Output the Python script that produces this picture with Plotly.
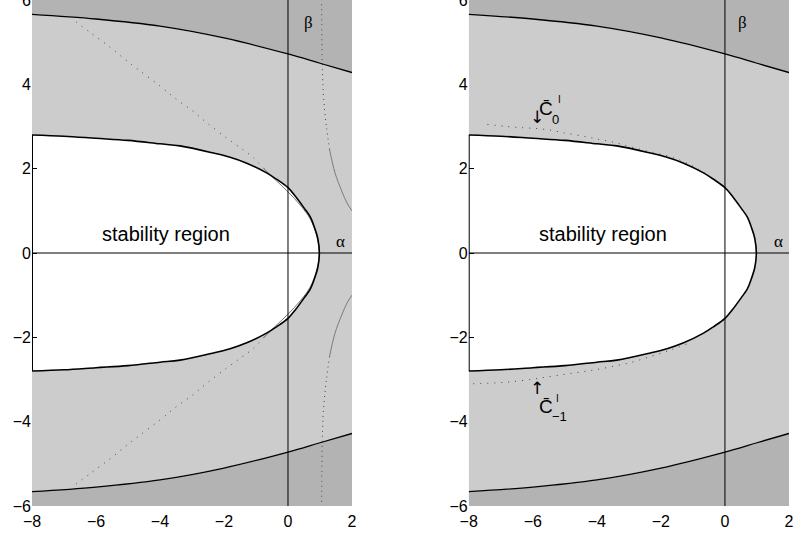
import plotly.graph_objects as go

# ---- data ----
# stability boundary (upper half, from left edge to the nose on the alpha axis)
stab_x = [-8, -7, -6, -5, -4, -3.375, -2.33, -1.81, -1.29, -0.67, -0.36, 0, 0.25, 0.5, 0.7, 0.83, 0.93, 0.98]
stab_y = [2.80, 2.77, 2.72, 2.67, 2.59, 2.54, 2.37, 2.27, 2.13, 1.90, 1.75, 1.55, 1.33, 1.07, 0.85, 0.60, 0.35, 0.0]

# outer (dark) boundary, upper half
outer_x = [-8, -6, -4, -2, 0, 1, 2]
outer_y = [5.66, 5.55, 5.38, 5.10, 4.72, 4.50, 4.28]

# left panel: thin curve near the nose (solid part) and its dotted continuation (upper half)
nose_x = [0.98, 0.9, 0.7, 0.4, 0, -0.4, -0.75]
nose_y = [0.0, 0.40, 0.80, 1.12, 1.45, 1.74, 2.0]
far_x = [-0.75, -1.08, -1.5, -1.92, -2.54, -3.0, -3.48, -4.0, -4.68, -5.09, -5.56, -6.13, -6.75]
far_y = [2.0, 2.26, 2.50, 2.73, 3.09, 3.38, 3.64, 3.96, 4.35, 4.59, 4.88, 5.20, 5.55]

# left panel: right-hand branches (upper half)
rb_near_x = [2.0, 1.85, 1.68, 1.47, 1.3]
rb_near_y = [1.0, 1.18, 1.47, 1.90, 2.45]
rb_far_x = [1.3, 1.2, 1.12, 1.08, 1.06, 1.05]
rb_far_y = [2.45, 3.0, 3.6, 4.2, 5.0, 6.0]

# right panel: dotted curves C0 and C-1
c0_x = [-7.42, -6.81, -6.29, -5.83, -5.41, -5.04, -4.42, -3.9, -3.38, -2.86, -2.23, -1.6, -1.0, -0.6]
c0_y = [3.05, 3.00, 2.97, 2.95, 2.91, 2.85, 2.77, 2.69, 2.61, 2.50, 2.38, 2.26, 2.06, 1.88]
cm1_x = [-7.86, -7.13, -6.61, -5.98, -5.56, -4.94, -4.31, -3.69, -2.96, -2.3, -1.7, -1.2]
cm1_y = [-3.10, -3.08, -3.05, -2.99, -2.94, -2.87, -2.80, -2.72, -2.60, -2.45, -2.30, -2.16]

x_ticks = [-8, -6, -4, -2, 0, 2]
y_ticks = [-6, -4, -2, 0, 2, 4, 6]
x_range = [-8, 2]
y_range = [-6, 6]

DARK = "#b3b3b3"
LIGHT = "#cccccc"
FONT = "Liberation Sans"

def neg(v):
    return [-t for t in v]

fig = go.Figure()

for k, (xa, ya) in enumerate([("x", "y"), ("x2", "y2")]):
    # dark regions
    fig.add_trace(go.Scatter(x=outer_x + [x_range[1], x_range[0]], y=outer_y + [y_range[1], y_range[1]],
                             fill="toself", fillcolor=DARK, mode="none", line_shape="spline",
                             xaxis=xa, yaxis=ya))
    fig.add_trace(go.Scatter(x=outer_x + [x_range[1], x_range[0]], y=neg(outer_y) + [y_range[0], y_range[0]],
                             fill="toself", fillcolor=DARK, mode="none", line_shape="spline",
                             xaxis=xa, yaxis=ya))
    # light regions
    fig.add_trace(go.Scatter(x=stab_x + [x_range[1]] + outer_x[::-1], y=stab_y + [0] + outer_y[::-1],
                             fill="toself", fillcolor=LIGHT, mode="none", xaxis=xa, yaxis=ya))
    fig.add_trace(go.Scatter(x=stab_x + [x_range[1]] + outer_x[::-1], y=neg(stab_y) + [0] + neg(outer_y)[::-1],
                             fill="toself", fillcolor=LIGHT, mode="none", xaxis=xa, yaxis=ya))

    if k == 0:
        # thin curve near the nose
        fig.add_trace(go.Scatter(x=nose_x[::-1] + nose_x[1:], y=nose_y[::-1] + neg(nose_y)[1:], mode="lines",
                                 line=dict(color="#555555", width=0.8, shape="spline"), xaxis=xa, yaxis=ya))
        for sgn in (1, -1):
            fy = far_y if sgn == 1 else neg(far_y)
            fig.add_trace(go.Scatter(x=far_x, y=fy, mode="lines",
                                     line=dict(color="#444444", width=1, dash="1px,6px", shape="spline"),
                                     xaxis=xa, yaxis=ya))
            ny = rb_near_y if sgn == 1 else neg(rb_near_y)
            fy2 = rb_far_y if sgn == 1 else neg(rb_far_y)
            fig.add_trace(go.Scatter(x=rb_near_x, y=ny, mode="lines",
                                     line=dict(color="#666666", width=0.8, shape="spline"), xaxis=xa, yaxis=ya))
            fig.add_trace(go.Scatter(x=rb_far_x, y=fy2, mode="lines",
                                     line=dict(color="#444444", width=1, dash="1px,4px", shape="spline"),
                                     xaxis=xa, yaxis=ya))
    else:
        fig.add_trace(go.Scatter(x=c0_x, y=c0_y, mode="lines",
                                 line=dict(color="#444444", width=1, dash="1px,6px", shape="spline"),
                                 xaxis=xa, yaxis=ya))
        fig.add_trace(go.Scatter(x=cm1_x, y=cm1_y, mode="lines",
                                 line=dict(color="#444444", width=1, dash="1px,6px", shape="spline"),
                                 xaxis=xa, yaxis=ya))

    # outer boundary lines
    fig.add_trace(go.Scatter(x=outer_x, y=outer_y, mode="lines",
                             line=dict(color="black", width=1.3, shape="spline"), xaxis=xa, yaxis=ya))
    fig.add_trace(go.Scatter(x=outer_x, y=neg(outer_y), mode="lines",
                             line=dict(color="black", width=1.3, shape="spline"), xaxis=xa, yaxis=ya))
    # stability boundary (curved part) and left edge
    fig.add_trace(go.Scatter(x=stab_x + stab_x[::-1][1:], y=stab_y + neg(stab_y)[::-1][1:],
                             mode="lines", line=dict(color="black", width=1.6, shape="spline"),
                             xaxis=xa, yaxis=ya))
    fig.add_trace(go.Scatter(x=[stab_x[0], stab_x[0]], y=[stab_y[0], -stab_y[0]],
                             mode="lines", line=dict(color="black", width=2), xaxis=xa, yaxis=ya))

    # coordinate axes through origin
    fig.add_shape(type="line", x0=0, x1=0, y0=y_range[0], y1=y_range[1], xref=xa, yref=ya,
                  line=dict(color="black", width=1))
    fig.add_shape(type="line", x0=x_range[0], x1=x_range[1], y0=0, y1=0, xref=xa, yref=ya,
                  line=dict(color="black", width=1))

ax_common = dict(range=x_range, tickvals=x_ticks, ticks="inside", ticklen=5, tickcolor="black",
                 showgrid=False, zeroline=False, showline=False, layer="below traces", automargin=False,
                 ticklabeloverflow="allow", ticklabelstandoff=4,
                 tickfont=dict(family=FONT, size=16, color="black"))
ay_common = dict(range=y_range, tickvals=y_ticks, ticks="inside", ticklen=5, tickcolor="black",
                 showgrid=False, zeroline=False, showline=False, layer="below traces", automargin=False,
                 ticklabeloverflow="allow",
                 tickfont=dict(family=FONT, size=16, color="black"))

fig.update_layout(
    width=794, height=533,
    margin=dict(l=32, r=5, t=0, b=27, autoexpand=False),
    plot_bgcolor="white", paper_bgcolor="white",
    showlegend=False, hovermode=False,
    xaxis=dict(domain=[0, 0.4227], anchor="y", **ax_common),
    yaxis=dict(domain=[0, 1], anchor="x", **ay_common),
    xaxis2=dict(domain=[0.5769, 1], anchor="y2", **ax_common),
    yaxis2=dict(domain=[0, 1], anchor="x2", **ay_common),
)

def ann(text, x, y, xref, yref, size, family=FONT):
    fig.add_annotation(text=text, x=x, y=y, xref=xref, yref=yref, showarrow=False,
                       font=dict(family=family, size=size, color="black"), xanchor="center", yanchor="middle")

for xr, yr, sx, ax_, bx_ in [("x", "y", -3.8, 1.63, 0.63), ("x2", "y2", -3.8, 1.66, 0.55)]:
    ann("stability region", sx, 0.45, xr, yr, 20)
    ann("α", ax_, 0.28, xr, yr, 17, "Liberation Serif")
    ann("β", bx_, 5.46, xr, yr, 17, "Liberation Serif")

# C labels in right panel
ann("↓", -5.86, 3.22, "x2", "y2", 17, "DejaVu Sans")
ann("C\u0304", -5.59, 3.42, "x2", "y2", 19)
ann("0", -5.30, 3.17, "x2", "y2", 13)
ann("I", -5.17, 3.63, "x2", "y2", 10)
ann("↑", -5.86, -3.19, "x2", "y2", 17, "DejaVu Sans")
ann("C\u0304", -5.59, -3.65, "x2", "y2", 19)
ann("−1", -5.17, -3.88, "x2", "y2", 13)
ann("I", -5.22, -3.45, "x2", "y2", 10)

fig.write_html("out.html", config={"displayModeBar": False},
               post_script="document.body.style.margin='0';document.body.style.overflow='hidden';")
